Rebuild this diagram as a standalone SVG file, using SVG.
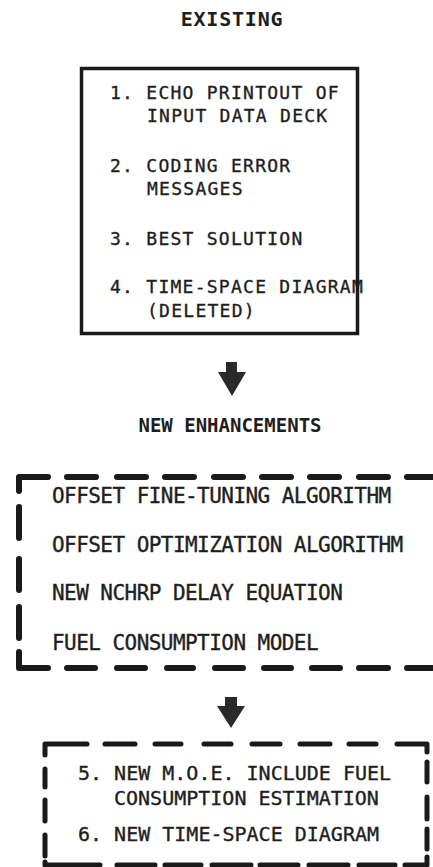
<svg xmlns="http://www.w3.org/2000/svg" width="433" height="867" viewBox="0 0 433 867">
<style>
.hdr{font-family:"DejaVu Sans Mono",monospace;font-weight:bold;fill:#1e1e1e;text-anchor:middle}
.t1{font-family:"DejaVu Sans Mono",monospace;font-size:18px;letter-spacing:1.26px;fill:#1e1e1e;stroke:#1e1e1e;stroke-width:0.35}
.t2{font-family:"DejaVu Sans Mono",monospace;font-size:21px;letter-spacing:-0.55px;fill:#1e1e1e;stroke:#1e1e1e;stroke-width:0.35}
.t3{font-family:"DejaVu Sans Mono",monospace;font-size:20px;letter-spacing:0px;fill:#1e1e1e;stroke:#1e1e1e;stroke-width:0.35}
.solid{fill:none;stroke:#1a1a1a;stroke-width:3.5}
.dash2{fill:none;stroke:#1a1a1a;stroke-width:6;stroke-linecap:round;stroke-linejoin:round}
.dash3{fill:none;stroke:#1a1a1a;stroke-width:5;stroke-linecap:round;stroke-linejoin:round}
.arr{fill:#2a2a2a}
</style>
<rect width="433" height="867" fill="#ffffff"/>
<g id="title-existing">
<text class="hdr" x="232" y="26" font-size="20" letter-spacing="0.8">EXISTING</text>
</g>
<g id="existing-box">
<rect class="solid" x="81.5" y="68.5" width="276" height="265"/>
<text class="t1" x="110" y="99">1. ECHO PRINTOUT OF</text>
<text class="t1" x="147" y="122">INPUT DATA DECK</text>
<text class="t1" x="110" y="172">2. CODING ERROR</text>
<text class="t1" x="147" y="195">MESSAGES</text>
<text class="t1" x="110" y="245">3. BEST SOLUTION</text>
<text class="t1" x="110" y="293">4. TIME-SPACE DIAGRAM</text>
<text class="t1" x="147" y="317">(DELETED)</text>
</g>
<g id="title-new">
<text class="hdr" x="230" y="432" font-size="19" letter-spacing="0">NEW ENHANCEMENTS</text>
</g>
<g id="enhancements-box">
<path class="dash2" d="M19,491 L19,477 L48,477 M67,477 L96,477 M117,477 L146,477 M165,477 L194,477 M214,477 L243,477 M262,477 L291,477 M310,477 L339,477 M359,477 L388,477 M407,477 L440,477 M19,507 L19,538 M19,559 L19,590 M19,607 L19,638 M19,652 L19,668 L48,668 M67,668 L95,668 M117,668 L145,668 M167,668 L193,668 M215,668 L243,668 M264,668 L291,668 M312,668 L340,668 M359,668 L388,668 M407,668 L440,668"/>
<text class="t2" x="52" y="503">OFFSET FINE-TUNING ALGORITHM</text>
<text class="t2" x="52" y="552">OFFSET OPTIMIZATION ALGORITHM</text>
<text class="t2" x="52" y="600">NEW NCHRP DELAY EQUATION</text>
<text class="t2" x="52" y="650">FUEL CONSUMPTION MODEL</text>
</g>
<g id="new-moe-box">
<path class="dash3" d="M45,755 L45,744 L87,744 M105,744 L135,744 M155,744 L181,744 M204,744 L231,744 M252,744 L280,744 M300,744 L330,744 M349,744 L376,744 M397,744 L427,744 L427,752 M45,769 L45,787 M45,800 L45,821 M45,835 L45,856 M45,862 L45,865 L100,865 M117,865 L155,865 M165,865 L201,865 M212,865 L251,865 M260,865 L298,865 M309,865 L348,865 M359,865 L395,865 M405,865 L427,865 L427,857 M427,762 L427,782 M427,797 L427,819 M427,829 L427,849"/>
<text class="t3" x="78" y="780">5. NEW M.O.E. INCLUDE FUEL</text>
<text class="t3" x="114" y="805">CONSUMPTION ESTIMATION</text>
<text class="t3" x="78" y="841">6. NEW TIME-SPACE DIAGRAM</text>
</g>
<g id="connectors">
<polygon class="arr" points="226,362 237,362 237,372 246,372 232,396 218,372 226,372"/>
<polygon class="arr" points="225,697 237,697 237,706 245,706 231,728 217,706 225,706"/>
</g>
</svg>
